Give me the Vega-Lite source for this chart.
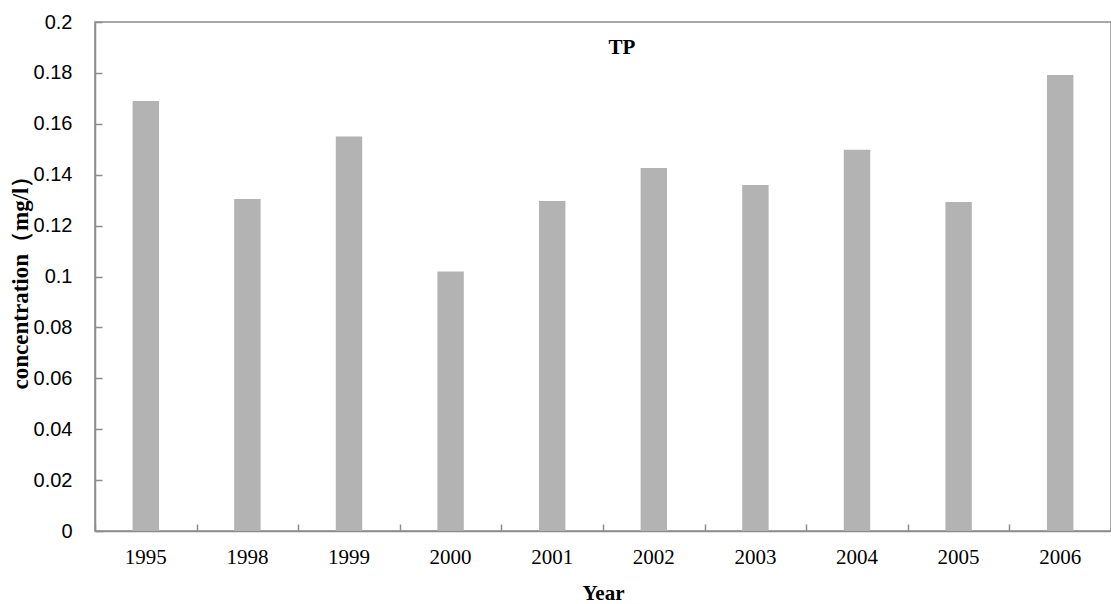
{
  "$schema": "https://vega.github.io/schema/vega-lite/v6.json",
  "width": 1016,
  "height": 509,
  "autosize": {"type": "none"},
  "padding": {"left": 95, "top": 22, "right": 0, "bottom": 73},
  "background": "white",
  "view": {"stroke": "#8c8c8c", "strokeWidth": 1.5},
  "title": {"text": "TP", "orient": "top", "offset": -46, "dx": 19, "font": "Liberation Serif", "fontSize": 21, "fontWeight": "bold", "color": "black"},
  "data": {"values": [
    {"year": "1995", "value": 0.169},
    {"year": "1998", "value": 0.1305},
    {"year": "1999", "value": 0.155},
    {"year": "2000", "value": 0.102},
    {"year": "2001", "value": 0.1297},
    {"year": "2002", "value": 0.1426},
    {"year": "2003", "value": 0.136},
    {"year": "2004", "value": 0.1498},
    {"year": "2005", "value": 0.1293},
    {"year": "2006", "value": 0.1792}
  ]},
  "resolve": {"axis": {"x": "independent", "y": "independent"}},
  "layer": [
    {
      "mark": {"type": "bar", "color": "#b3b3b3"},
      "encoding": {
        "x": {"field": "year", "type": "ordinal", "sort": null,
          "scale": {"paddingInner": 0.74, "paddingOuter": 0.37},
          "axis": {"title": "Year", "labelAngle": 0, "ticks": false, "tickSize": 0, "domainColor": "#8c8c8c", "domainWidth": 1.5,
            "labelFont": "Liberation Serif", "labelFontSize": 21, "labelColor": "black", "labelPadding": 15,
            "titleFont": "Liberation Serif", "titleFontSize": 21, "titleFontWeight": "bold", "titleColor": "black", "titlePadding": 15}},
        "y": {"field": "value", "type": "quantitative",
          "scale": {"domain": [0, 0.2], "nice": false},
          "axis": {"title": "concentration（mg/l）", "values": [0,0.02,0.04,0.06,0.08,0.1,0.12,0.14,0.16,0.18,0.2], "format": "~g", "grid": false,
            "ticks": false, "tickSize": 0, "domainColor": "#8c8c8c", "domainWidth": 1.5,
            "labelFont": "Liberation Sans", "labelFontSize": 20, "labelColor": "black", "labelPadding": 23,
            "titleFont": "Liberation Serif", "titleFontSize": 23, "titleFontWeight": "bold", "titleColor": "black", "titlePadding": 1}}
      }
    },
    {
      "mark": {"type": "bar", "opacity": 0},
      "encoding": {
        "x": {"field": "year", "type": "ordinal", "sort": null,
          "axis": {"orient": "top", "offset": -509, "title": null, "labels": false, "domain": false, "ticks": true, "bandPosition": 0, "tickOffset": -37.6, "tickSize": 7, "tickWidth": 1.5, "tickColor": "#8c8c8c"}},
        "y": {"field": "value", "type": "quantitative",
          "axis": {"orient": "right", "offset": -1016, "title": null, "labels": false, "domain": false, "grid": false, "values": [0,0.02,0.04,0.06,0.08,0.1,0.12,0.14,0.16,0.18,0.2], "ticks": true, "tickSize": 7, "tickWidth": 1.5, "tickColor": "#8c8c8c"}}
      }
    }
  ]
}
